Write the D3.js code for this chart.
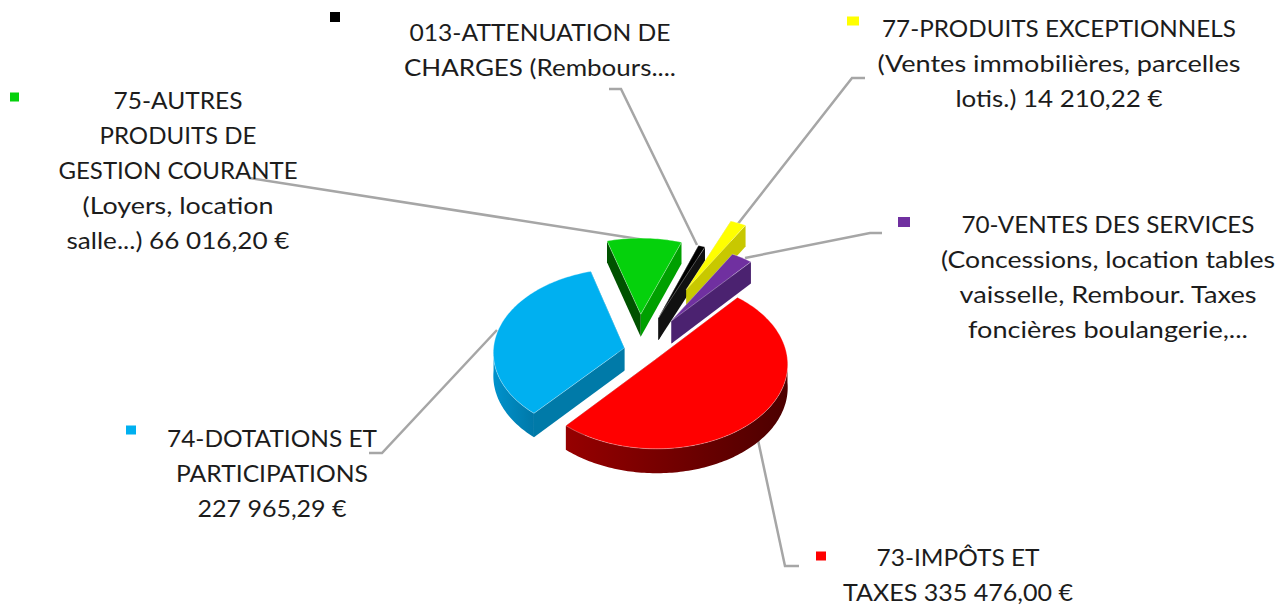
<!DOCTYPE html>
<html>
<head>
<meta charset="utf-8">
<script src="https://d3js.org/d3.v7.min.js"></script>
<style>
html, body { margin: 0; padding: 0; background: #fff; }
svg { display: block; }
text { font-family: Lato, "Open Sans", sans-serif; font-size: 24px; fill: #1c1c1c; text-anchor: middle; }
</style>
</head>
<body>
<div id="chart"></div>
<script>
const categories = ["75-AUTRES", "013-ATTENUATION", "77-PRODUITS", "70-VENTES", "73-IMPOTS", "74-DOTATIONS"];
const amounts = [66016.20, 6000, 14210.22, 19000, 335476.00, 227965.29];
const explodes = [57, 55, 110, 57, 22, 15];
const topColors = ["#05d10c", "#000000", "#ffff00", "#7030a0", "#ff0000", "#00b0f0"];
const startWallColors = ["#005200", "#000000", "#c8c800", "#4b2270", "#600000", "#007aa8"];
const endWallColors = ["#00a000", "#111111", "#c8c800", "#4b2270", "#600000", "#007aa8"];
const outerLeftColors = ["#004000", "#000000", "#b0b000", "#3f1c60", "#960000", "#0092cc"];
const outerRightColors = ["#008000", "#000000", "#b0b000", "#3f1c60", "#4c0000", "#0078a8"];
const labelLines = [
    ["75-AUTRES", "PRODUITS DE", "GESTION COURANTE", "(Loyers, location", "salle...) 66 016,20 €"],
    ["013-ATTENUATION DE", "CHARGES (Rembours...."],
    ["77-PRODUITS EXCEPTIONNELS", "(Ventes immobilières, parcelles", "lotis.) 14 210,22 €"],
    ["70-VENTES DES SERVICES", "(Concessions, location tables", "vaisselle, Rembour. Taxes", "foncières boulangerie,..."],
    ["73-IMPÔTS ET", "TAXES 335 476,00 €"],
    ["74-DOTATIONS ET", "PARTICIPATIONS", "227 965,29 €"]
];
const labelX = [178, 540, 1059, 1108, 958, 272];
const labelY = [109, 41, 37, 233, 566, 447];
const labelWidths = [
    [129, 157, 239, 191, 223],
    [261, 272],
    [354, 363, 207],
    [293, 334, 297, 280],
    [163, 230],
    [210, 192, 149]
];
const markerX = [10, 330, 847, 898, 816, 126];
const markerY = [97, 17, 21, 222, 556, 430];
const markerW = [9, 10, 12, 12, 10, 10];
const markerH = [9, 10, 9, 10, 9, 9];
const leaders = [
    [[249, 178], [645, 240]],
    [[609, 89], [621, 89], [697, 245]],
    [[865, 78], [852, 78], [737, 225]],
    [[882, 233], [870, 233], [745, 258]],
    [[799, 566], [785, 566], [758, 440]],
    [[369, 453], [382, 453], [497, 330]]
];

const width = 1288, height = 605;
const cx = 639, cy = 350, radius = 131, squash = 0.64, depth = 23, perspective = 0.0004;
const startDeg = -16;

const svg = d3.select("#chart").append("svg")
    .attr("width", width)
    .attr("height", height);

const defs = svg.append("defs");

const pie = d3.pie().sort(null)
    .startAngle(startDeg * Math.PI / 180)
    .endAngle((startDeg + 360) * Math.PI / 180);
const arcs = pie(amounts);

const line = d3.line();

// leader lines go under the pie
svg.append("g").selectAll("path")
    .data(leaders)
    .enter().append("path")
    .attr("d", d => line(d))
    .attr("fill", "none")
    .attr("stroke", "#a6a6a6")
    .attr("stroke-width", 2.5);

// pie plane to screen, the front gets bigger
function project(u, v, drop) {
    const s = 1 / (1 - perspective * v);
    return [cx + u * s, cy + (v * squash + (drop || 0)) * s];
}

function sliceOffset(d, i) {
    const mid = (d.startAngle + d.endAngle) / 2;
    return [explodes[i] * Math.sin(mid), -explodes[i] * Math.cos(mid)];
}

function anglePoints(a0, a1) {
    return d3.range(a0, a1, 0.02).concat([a1]);
}

function rimPoint(a, off, drop) {
    return project(off[0] + radius * Math.sin(a), off[1] - radius * Math.cos(a), drop);
}

function wall(a, off) {
    return line([
        project(off[0], off[1], 0),
        rimPoint(a, off, 0),
        rimPoint(a, off, depth),
        project(off[0], off[1], depth)
    ]) + "Z";
}

// only the front half of the rim can be seen
function outerWall(a0, a1, off) {
    const lo = Math.max(a0, Math.PI / 2), hi = Math.min(a1, 3 * Math.PI / 2);
    if (hi <= lo) return null;
    const angles = anglePoints(lo, hi);
    const upper = angles.map(a => rimPoint(a, off, 0));
    const lower = angles.map(a => rimPoint(a, off, depth)).reverse();
    return line(upper.concat(lower)) + "Z";
}

function topFace(d, off) {
    const pts = anglePoints(d.startAngle, d.endAngle).map(a => rimPoint(a, off, 0));
    return line([project(off[0], off[1], 0)].concat(pts)) + "Z";
}

const slices = svg.selectAll("g.slice")
    .data(arcs)
    .enter().append("g")
    .attr("class", "slice");

slices.each(function(d, i) {
    const g = d3.select(this);
    const off = sliceOffset(d, i);
    const grad = defs.append("linearGradient").attr("id", "outer" + i);
    grad.append("stop").attr("offset", "0").attr("stop-color", outerLeftColors[i]);
    grad.append("stop").attr("offset", "1").attr("stop-color", outerRightColors[i]);

    g.append("path")
        .attr("d", wall(d.startAngle, off))
        .attr("fill", startWallColors[i]);
    g.append("path")
        .attr("d", wall(d.endAngle, off))
        .attr("fill", endWallColors[i]);

    const outer = outerWall(d.startAngle, d.endAngle, off);
    if (outer) {
        g.append("path")
            .attr("d", outer)
            .attr("fill", `url(#outer${i})`);
    }

    g.append("path")
        .attr("d", topFace(d, off))
        .attr("fill", topColors[i])
        .attr("stroke", "#ffffff")
        .attr("stroke-opacity", 0.45)
        .attr("stroke-width", 0.7);
});

// legend keys
svg.append("g").selectAll("rect")
    .data(topColors)
    .enter().append("rect")
    .attr("x", (d, i) => markerX[i])
    .attr("y", (d, i) => markerY[i] - markerH[i] / 2)
    .attr("width", (d, i) => markerW[i])
    .attr("height", (d, i) => markerH[i])
    .attr("fill", d => d);

// labels, each line fitted to the width measured on the picture
const labels = svg.append("g");
labelLines.forEach((lines, i) => {
    lines.forEach((txt, j) => {
        labels.append("text")
            .attr("x", labelX[i])
            .attr("y", labelY[i] + j * 35)
            .attr("textLength", labelWidths[i][j])
            .attr("lengthAdjust", "spacingAndGlyphs")
            .text(txt);
    });
});
</script>
</body>
</html>
